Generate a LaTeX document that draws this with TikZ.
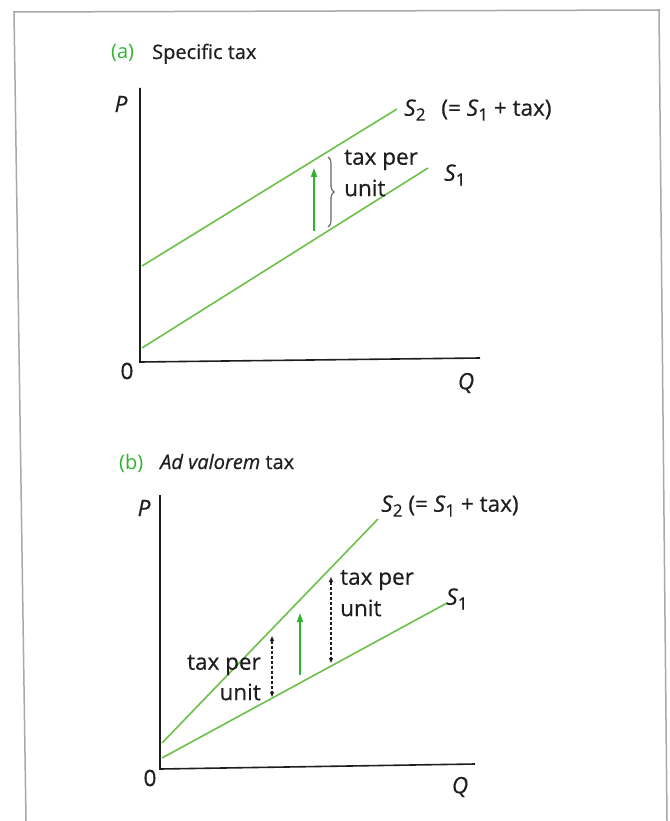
\documentclass[tikz,border=0pt]{standalone}
\usepackage{fontspec}
\setmainfont{Open Sans}[FakeBold=0.5]
\newfontfamily\thinfont{Open Sans}
\usetikzlibrary{arrows.meta,decorations.pathreplacing}
\definecolor{curvegreen}{HTML}{6CC04A}
\definecolor{arrowgreen}{HTML}{2DB52D}
\definecolor{framegray}{HTML}{A8A8A8}
\definecolor{inkgray}{HTML}{1E1E1E}
\newcommand\Ssub[1]{\textit{S}\raisebox{-0.4ex}{\fontsize{17}{17}\selectfont #1}}
\tikzset{
  lbl/.style={inner sep=0pt, font=\fontsize{22.5}{24}\selectfont, text=inkgray},
  ttl/.style={inner sep=0pt, font=\fontsize{20}{22}\selectfont, text=inkgray, anchor=base west},
  partlbl/.style={inner sep=0pt, font=\fontsize{20}{22}\selectfont\thinfont, text=arrowgreen, anchor=base west},
  curve/.style={draw=curvegreen, line width=1.6pt},
  axis/.style={draw=inkgray, line width=1.6pt},
  shiftarrow/.style={draw=arrowgreen, line width=1.6pt, -{Triangle[length=9pt,width=6pt]}},
  taxarrow/.style={draw=inkgray, line width=1.2pt, dash pattern=on 3pt off 2pt, {Triangle[length=5pt,width=4pt]}-{Triangle[length=5pt,width=4pt]}},
  frame/.style={draw=framegray, line width=1.5pt}
}
\begin{document}
\begin{tikzpicture}[x=1pt,y=-1pt]
\useasboundingbox (0,0) rectangle (669,821);
% frame
\coordinate (f1) at (26,821);
\coordinate (f2) at (14,12);
\coordinate (f3) at (659,10);
\coordinate (f4) at (667,821);
\draw[frame] (f1) -- (f2) -- (f3) -- (f4);

% ---------- panel (a)
\node[partlbl] (ta) at (111,59) {(a)};
\node[ttl] (tta) at (152,59) {Specific tax};
\coordinate (oa) at (140,362);
\coordinate (ya) at (140,88);
\coordinate (xa) at (480,358);
\draw[axis] (ya) -- (oa) -- (xa);
\node[lbl, font=\fontsize{22.5}{24}\selectfont\itshape] (pa) at (121,104) {P};
\node[lbl] (za) at (127,371) {0};
\node[lbl, font=\fontsize{22.5}{24}\selectfont\itshape] (qa) at (466,383) {Q};
\coordinate (s2a0) at (142,266);
\coordinate (s2a1) at (397,109);
\coordinate (s1a0) at (142,348);
\coordinate (s1a1) at (428,168);
\draw[curve] (s2a0) -- (s2a1);
\draw[curve] (s1a0) -- (s1a1);
\node[lbl, anchor=west] (s2la) at (404,110) {\Ssub{2}\hspace{0.7em}(= \Ssub{1} + tax)};
\node[lbl, anchor=west] (s1la) at (444,175) {\Ssub{1}};
\coordinate (gaa0) at (314,231);
\coordinate (gaa1) at (314,168);
\draw[shiftarrow] (gaa0) -- (gaa1);
\coordinate (bra0) at (328,227);
\coordinate (bra1) at (328,157);
\draw[draw=gray!80!black, line width=1.1pt, decorate, decoration={brace, amplitude=6pt}] (bra1) -- (bra0);
\node[lbl, anchor=west] (tpa1) at (344,160) {tax per};
\node[lbl, anchor=west] (tpa2) at (344,188) {unit};

% ---------- panel (b)
\node[partlbl] (tb) at (119,469) {(b)};
\node[ttl] (ttb) at (160,469) {\textit{Ad valorem} tax};
\coordinate (ob) at (160,769);
\coordinate (yb) at (160,495);
\coordinate (xb) at (475,764);
\draw[axis] (yb) -- (ob) -- (xb);
\node[lbl, font=\fontsize{22.5}{24}\selectfont\itshape] (pb) at (144,508) {P};
\node[lbl] (zb) at (150,778) {0};
\node[lbl, font=\fontsize{22.5}{24}\selectfont\itshape] (qb) at (460,787) {Q};
\coordinate (s2b0) at (162,743);
\coordinate (s2b1) at (378,519);
\coordinate (s1b0) at (162,758);
\coordinate (s1b1) at (447,603);
\draw[curve] (s2b0) -- (s2b1);
\draw[curve] (s1b0) -- (s1b1);
\node[lbl, anchor=west] (s2lb) at (381,506) {\Ssub{2} (= \Ssub{1} + tax)};
\node[lbl, anchor=west] (s1lb) at (446,599) {\Ssub{1}};
\coordinate (gab0) at (300,675);
\coordinate (gab1) at (300,613);
\draw[shiftarrow] (gab0) -- (gab1);
\coordinate (dr0) at (331,577);
\coordinate (dr1) at (331,663);
\draw[taxarrow] (dr0) -- (dr1);
\coordinate (dl0) at (272,636);
\coordinate (dl1) at (272,697);
\draw[taxarrow] (dl0) -- (dl1);
\node[lbl, anchor=west] (tpb1) at (340,580) {tax per};
\node[lbl, anchor=west] (tpb2) at (340,608) {unit};
\node[lbl, anchor=east] (tpb3) at (261,665) {tax per};
\node[lbl, anchor=east] (tpb4) at (261,692) {unit};
\end{tikzpicture}
\end{document}
